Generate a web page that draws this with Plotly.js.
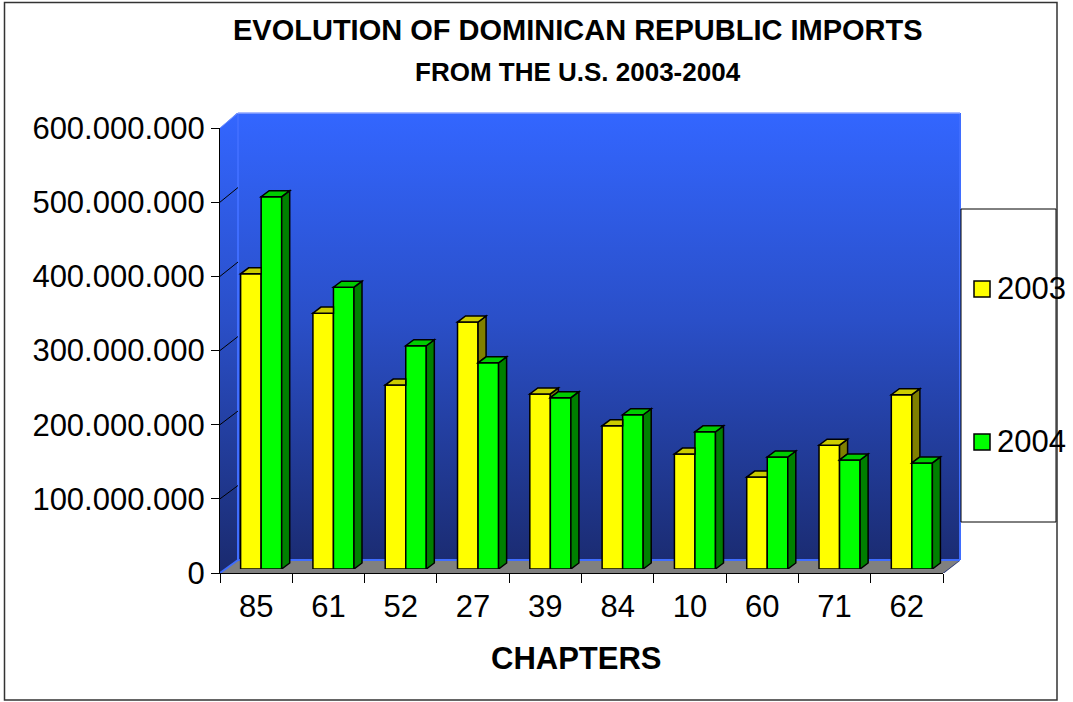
<!DOCTYPE html>
<html>
<head>
<meta charset="utf-8">
<script src="https://cdn.plot.ly/plotly-3.0.1.min.js"></script>
<style>
  html, body { margin: 0; padding: 0; background: #ffffff; }
  #chart { width: 1073px; height: 702px; }
</style>
</head>
<body>
<div id="chart"></div>
<script>
// ---------------- data ----------------
const categories = ['85', '61', '52', '27', '39', '84', '10', '60', '71', '62'];
const imports2003 = [398e6, 345e6, 248e6, 333e6, 236e6, 193e6, 155e6, 124e6, 167e6, 235e6];
const imports2004 = [502e6, 380e6, 301e6, 278e6, 231e6, 208e6, 185e6, 151e6, 147e6, 143e6];
const seriesNames = ['2003', '2004'];
const yTicks = [0, 100e6, 200e6, 300e6, 400e6, 500e6, 600e6];
const titleLines = ['EVOLUTION OF DOMINICAN REPUBLIC IMPORTS', 'FROM THE U.S. 2003-2004'];
const xTitle = 'CHAPTERS';

// ---------------- geometry helpers (page pixels -> paper) ----------------
const W = 1073, H = 702;
const L = 220, R = 960, T = 113, B = 573;          // plot box in page pixels
const PW = R - L, PH = B - T;
const px = x => (x - L) / PW;
const py = y => (B - y) / PH;
const FONT = 'Liberation Sans, Arial, Helvetica, sans-serif';
const YMAX = 600e6;

// 3D depth for the bars, in bar-axis units
const BAR_W = 0.284;
const DX = 0.111;
const DY = 8.1e6;

const idx = categories.map((c, i) => i);

// ---------------- traces ----------------
const traces = [
  { // anchors the front category axis
    type: 'scatter', x: categories, y: imports2003, xaxis: 'x2', yaxis: 'y2',
    mode: 'markers', marker: { opacity: 0 }, hoverinfo: 'skip', showlegend: false
  },
  {
    type: 'bar', name: seriesNames[0], x: idx, y: imports2003, xaxis: 'x3', yaxis: 'y3',
    width: BAR_W, offset: -BAR_W,
    marker: { color: '#FFFF00', line: { color: '#000000', width: 1.5 } }, showlegend: false
  },
  {
    type: 'bar', name: seriesNames[1], x: idx, y: imports2004, xaxis: 'x3', yaxis: 'y3',
    width: BAR_W, offset: 0,
    marker: { color: '#00FF00', line: { color: '#000000', width: 1.5 } }, showlegend: false
  }
];

// ---------------- shapes ----------------
const shapes = [];
function polyPaper(pts, fill, line, lw, layer) {
  const d = pts.map((p, k) => (k ? 'L' : 'M') + px(p[0]) + ',' + py(p[1])).join(' ') + ' Z';
  shapes.push({ type: 'path', xref: 'paper', yref: 'paper', path: d, fillcolor: fill,
    line: { color: line || 'rgba(0,0,0,0)', width: lw || 0 }, layer: layer || 'below' });
}
function linePaper(a, b, color, w, layer) {
  shapes.push({ type: 'line', xref: 'paper', yref: 'paper', x0: px(a[0]), y0: py(a[1]), x1: px(b[0]), y1: py(b[1]),
    line: { color: color, width: w }, layer: layer || 'below' });
}
// white corner above the left wall
polyPaper([[L, T - 1], [238, T - 1], [L, 128]], '#ffffff');
// floor
polyPaper([[L, B], [238, 560], [R, 560], [943, B]], '#808080');
// white corner below the floor on the right
polyPaper([[R + 1, 560], [R + 1, B + 1], [943, B + 1]], '#ffffff');
// wall edges
linePaper([238, T], [238, 560], '#3f6dff', 2);
linePaper([L, B], [238, 560], '#3f6dff', 2);
linePaper([238, 560], [R, 560], '#3f6dff', 2);
linePaper([R, T], [R, 560], '#3f6dff', 2);
linePaper([238, T], [R, T], '#8fa6ff', 1.5);
linePaper([L, 128], [238, T], '#6f90ff', 1);
// perspective grid lines on the left wall (front tick -> back grid line)
yTicks.filter(v => v > 0 && v < YMAX).forEach(v => {
  const yf = B - v / YMAX * (B - 128);
  const yb = 560 - v / YMAX * (560 - T);
  linePaper([L, yf], [238, yb], '#000000', 1);
});

// bar tops and sides
function polyData(pts, fill) {
  const d = pts.map((p, k) => (k ? 'L' : 'M') + p[0] + ',' + p[1]).join(' ') + ' Z';
  shapes.push({ type: 'path', xref: 'x3', yref: 'y3', path: d, fillcolor: fill,
    line: { color: '#000000', width: 1.5 }, layer: 'above' });
}
idx.forEach(i => {
  const v3 = imports2003[i], v4 = imports2004[i];
  const a0 = i - BAR_W, a1 = i, b0 = i, b1 = i + BAR_W;
  if (v3 >= v4) {
    polyData([[a1, v4], [a1, v3], [a1 + DX, v3 + DY], [a1 + DX, v4 + DY]], '#808000');
    polyData([[a0, v3], [a1, v3], [a1 + DX, v3 + DY], [a0 + DX, v3 + DY]], '#CCCC00');
  } else {
    polyData([[a0, v3], [a1, v3], [a1, v3 + DY], [a0 + DX, v3 + DY]], '#CCCC00');
  }
  polyData([[b1, 0], [b1, v4], [b1 + DX, v4 + DY], [b1 + DX, DY]], '#008000');
  polyData([[b0, v4], [b1, v4], [b1 + DX, v4 + DY], [b0 + DX, v4 + DY]], '#00CC00');
});

// legend box and keys
polyPaper([[961, 209], [1056, 209], [1056, 522], [961, 522]], '#ffffff', '#000000', 1, 'below');
polyPaper([[974, 281], [990, 281], [990, 297], [974, 297]], '#FFFF00', '#000000', 1.5, 'above');
polyPaper([[974, 434], [990, 434], [990, 450], [974, 450]], '#00FF00', '#000000', 1.5, 'above');
// outer chart border
shapes.push({ type: 'rect', xref: 'paper', yref: 'paper', x0: px(4.5), y0: py(2.5), x1: px(1057), y1: py(700),
  line: { color: '#333333', width: 1.5 }, fillcolor: 'rgba(0,0,0,0)', layer: 'above' });

// ---------------- annotations ----------------
const annotations = [
  { text: '<b>' + titleLines[0] + '</b>', x: px(578), y: py(30), xanchor: 'center', yanchor: 'middle',
    font: { family: FONT, size: 29, color: '#000' } },
  { text: '<b>' + titleLines[1] + '</b>', x: px(578), y: py(72), xanchor: 'center', yanchor: 'middle',
    font: { family: FONT, size: 26, color: '#000' } },
  { text: '<b>' + xTitle + '</b>', x: px(576), y: py(658), xanchor: 'center', yanchor: 'middle',
    font: { family: FONT, size: 31, color: '#000' } },
  { text: seriesNames[0], x: px(995), y: py(288), xanchor: 'left', yanchor: 'middle',
    font: { family: FONT, size: 31, color: '#000' } },
  { text: seriesNames[1], x: px(995), y: py(441), xanchor: 'left', yanchor: 'middle',
    font: { family: FONT, size: 31, color: '#000' } }
].map(a => Object.assign({ xref: 'paper', yref: 'paper', showarrow: false }, a));

// ---------------- gradient back wall ----------------
const svg = '<svg xmlns="http://www.w3.org/2000/svg" width="100" height="100" preserveAspectRatio="none">' +
  '<defs><linearGradient id="g" x1="0" y1="0" x2="0" y2="1">' +
  '<stop offset="0" stop-color="#3366ff"/><stop offset="0.45" stop-color="#2a4fc8"/>' +
  '<stop offset="1" stop-color="#1a2a6e"/></linearGradient></defs>' +
  '<rect width="100" height="100" fill="url(#g)"/></svg>';
const images = [{
  source: 'data:image/svg+xml;charset=utf-8,' + encodeURIComponent(svg),
  xref: 'paper', yref: 'paper', x: 0, y: 1, sizex: 1, sizey: 1,
  xanchor: 'left', yanchor: 'top', sizing: 'stretch', layer: 'below'
}];

// ---------------- layout ----------------
const layout = {
  width: W, height: H,
  margin: { l: L, r: W - R, t: T, b: H - B, pad: 0 },
  paper_bgcolor: '#ffffff', plot_bgcolor: 'rgba(0,0,0,0)',
  separators: ',.',
  showlegend: false,
  font: { family: FONT, color: '#000' },
  // back wall (grid lines)
  xaxis: { domain: [18 / PW, 1], range: [-0.5, 9.5], anchor: 'y', showgrid: false, zeroline: false,
    showticklabels: false, ticks: '', showline: false, fixedrange: true },
  yaxis: { domain: [13 / PH, 1], range: [0, YMAX], anchor: 'x', tickvals: yTicks.filter(v => v > 0 && v < YMAX),
    showgrid: true, gridcolor: '#000000', gridwidth: 1, zeroline: false, showticklabels: false, ticks: '',
    showline: false, fixedrange: true },
  // front axes (labels)
  xaxis2: { domain: [0, 723 / PW], type: 'category', categoryorder: 'array', categoryarray: categories,
    range: [-0.5, 9.5], anchor: 'y2', tickson: 'boundaries', ticks: 'outside', ticklen: 9, tickwidth: 1,
    tickcolor: '#000', showline: true, linecolor: '#000', linewidth: 1, showgrid: false, zeroline: false,
    tickfont: { family: FONT, size: 31, color: '#000' }, ticklabelstandoff: 6, fixedrange: true },
  yaxis2: { domain: [0, (B - 128) / PH], range: [0, YMAX], anchor: 'x2', tickvals: yTicks, tickformat: ',d',
    ticks: 'outside', ticklen: 8, tickwidth: 1, tickcolor: '#000', showline: true, linecolor: '#000', linewidth: 1,
    showgrid: false, zeroline: false, tickfont: { family: FONT, size: 31, color: '#000' },
    ticklabelstandoff: 0, fixedrange: true },
  // bars (shifted into depth)
  xaxis3: { domain: [5 / PW, 728 / PW], range: [-0.5, 9.5], anchor: 'y3', visible: false, fixedrange: true },
  yaxis3: { domain: [4 / PH, (B - 124) / PH], range: [0, YMAX], anchor: 'x3', visible: false, fixedrange: true },
  shapes: shapes,
  annotations: annotations,
  images: images
};

Plotly.newPlot('chart', traces, layout, { displayModeBar: false, staticPlot: true });
</script>
</body>
</html>
